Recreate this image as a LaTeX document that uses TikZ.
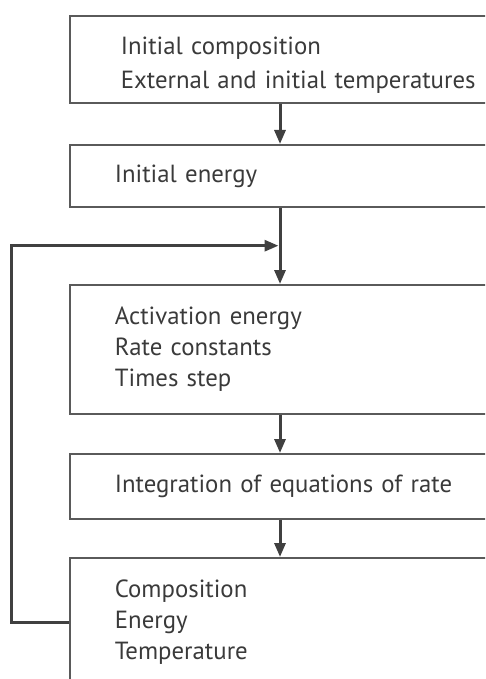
\documentclass[tikz,border=0pt]{standalone}
\usepackage{fontspec}
\setmainfont{PT Sans}
\usetikzlibrary{arrows.meta}
\definecolor{linecol}{HTML}{404040}
\definecolor{boxcol}{HTML}{5A5A5A}
\definecolor{txtcol}{HTML}{3A3A3A}
\begin{document}
\begin{tikzpicture}[x=1pt,y=-1pt,
  stepbox/.style={draw=boxcol, line width=1.8pt, rectangle, anchor=north west,
    minimum width=431pt, text width=431pt, align=left, inner xsep=0pt,
    text=txtcol, font=\fontsize{24.8}{31}\selectfont},
  arr/.style={draw=linecol, line width=3pt, -{Triangle[length=14pt,width=11pt]}},
  link/.style={draw=linecol, line width=3pt}]
\useasboundingbox (0,0) rectangle (485,679);
\clip (0,0) rectangle (485,679);
\node[stepbox, minimum height=87pt, font=\fontsize{24.8}{34}\selectfont] (b1) at (69,15) {\hspace*{51pt}\rule{0pt}{30pt}Initial composition\\\hspace*{51pt}External and initial temperatures};
\node[stepbox, minimum height=62pt] (b2) at (69,144) {\hspace*{45pt}Initial energy};
\node[stepbox, minimum height=129pt] (b3) at (69,284) {\hspace*{45pt}Activation energy\\\hspace*{45pt}Rate constants\\\hspace*{45pt}Times step};
\node[stepbox, minimum height=65pt] (b4) at (69,453) {\hspace*{45pt}Integration of equations of rate};
\node[stepbox, minimum height=129pt] (b5) at (69,557) {\hspace*{45pt}Composition\\\hspace*{45pt}Energy\\\hspace*{45pt}Temperature};
\coordinate (join) at (280,245.7);
\coordinate (corner) at (11,245.7);
\draw[arr] ([xshift=211pt]b1.south west) -- ([xshift=211pt]b2.north west);
\draw[arr] ([xshift=211pt]b2.south west) -- ([xshift=211pt]b3.north west);
\draw[arr] ([xshift=211pt]b3.south west) -- ([xshift=211pt]b4.north west);
\draw[arr] ([xshift=211pt]b4.south west) -- ([xshift=211pt]b5.north west);
\draw[arr] (b5.west) -| (corner) -- ([xshift=-1.5pt]join);
\end{tikzpicture}
\end{document}
